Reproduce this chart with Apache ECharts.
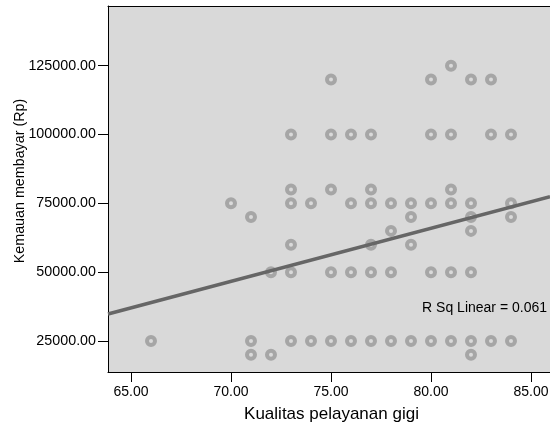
<!DOCTYPE html>
<html>
<head>
<meta charset="utf-8">
<script src="https://cdn.jsdelivr.net/npm/echarts@6/dist/echarts.min.js"></script>
<style>
html,body{margin:0;padding:0;background:#fff;}
#c{width:550px;height:425px;}
</style>
</head>
<body>
<div id="c"></div>
<script>
// Data
const kualitas = [
  66,
  70,
  71, 71, 71,
  72, 72,
  73, 73, 73, 73, 73, 73,
  74, 74,
  75, 75, 75, 75, 75,
  76, 76, 76, 76,
  77, 77, 77, 77, 77, 77,
  78, 78, 78, 78,
  79, 79, 79, 79,
  80, 80, 80, 80, 80,
  81, 81, 81, 81, 81, 81,
  82, 82, 82, 82, 82, 82, 82,
  83, 83, 83,
  84, 84, 84, 84
];
const kemauan = [
  25000,
  75000,
  70000, 25000, 20000,
  50000, 20000,
  100000, 80000, 75000, 60000, 50000, 25000,
  75000, 25000,
  120000, 100000, 80000, 50000, 25000,
  100000, 75000, 50000, 25000,
  100000, 80000, 75000, 60000, 50000, 25000,
  75000, 65000, 50000, 25000,
  75000, 70000, 60000, 25000,
  120000, 100000, 75000, 50000, 25000,
  125000, 100000, 80000, 75000, 50000, 25000,
  120000, 75000, 70000, 65000, 50000, 25000, 20000,
  120000, 100000, 25000,
  100000, 75000, 70000, 25000
];
const fitX = [63.85, 85.95];
const fitY = [34808, 77415];
const xTicks = [65, 70, 75, 80, 85];
const yTicks = [25000, 50000, 75000, 100000, 125000];
const rSqText = 'R Sq Linear = 0.061';

const points = kualitas.map((x, i) => [x, kemauan[i]]);
const fitLine = fitX.map((x, i) => [x, fitY[i]]);

const FONT = '"Liberation Sans", Arial, sans-serif';
const chart = echarts.init(document.getElementById('c'), null, {renderer: 'canvas'});
chart.setOption({
  animation: false,
  backgroundColor: '#ffffff',
  grid: {
    left: 108, top: 6, right: 0, bottom: 53,
    containLabel: false,
    outerBoundsMode: 'none',
    show: true, backgroundColor: '#d9d9d9', borderWidth: 0
  },
  xAxis: [{
    type: 'value',
    min: 63.85, max: 85.95,
    position: 'bottom',
    name: 'Kualitas pelayanan gigi',
    nameLocation: 'middle',
    nameGap: 34,
    nameMoveOverlap: false,
    nameTextStyle: {fontFamily: FONT, fontSize: 17, color: '#000', padding: [0, 0, 0, 5]},
    axisLine: {show: true, onZero: false, lineStyle: {color: '#000', width: 1}},
    axisTick: {show: true, length: 10, customValues: xTicks, lineStyle: {color: '#000'}},
    axisLabel: {
      customValues: xTicks, margin: 13,
      fontFamily: FONT, fontSize: 14, color: '#000',
      formatter: v => v.toFixed(2)
    },
    splitLine: {show: false}
  }, {
    type: 'value',
    min: 63.85, max: 85.95,
    position: 'top',
    axisLine: {show: true, onZero: false, lineStyle: {color: '#000', width: 1}},
    axisTick: {show: false},
    axisLabel: {show: false},
    splitLine: {show: false}
  }],
  yAxis: {
    type: 'value',
    min: 13740, max: 146685,
    name: 'Kemauan membayar (Rp)',
    nameLocation: 'middle',
    nameGap: 81,
    nameMoveOverlap: false,
    nameTextStyle: {fontFamily: FONT, fontSize: 14.3, color: '#000', padding: [0, 0, 0, 16]},
    axisLine: {show: true, onZero: false, lineStyle: {color: '#000', width: 1}},
    axisTick: {show: true, length: 10, customValues: yTicks, lineStyle: {color: '#000'}},
    axisLabel: {
      customValues: yTicks, margin: 12,
      fontFamily: FONT, fontSize: 14.3, color: '#000',
      formatter: v => v.toFixed(2)
    },
    splitLine: {show: false}
  },
  series: [{
    type: 'scatter',
    data: points,
    symbol: 'circle',
    symbolSize: 8,
    itemStyle: {color: '#dadada', borderColor: '#a6a6a6', borderWidth: 4, opacity: 1},
    z: 2
  }, {
    type: 'line',
    data: fitLine,
    symbol: 'none',
    lineStyle: {color: '#666666', width: 3.5},
    z: 3
  }],
  graphic: [{
    type: 'text',
    right: 3,
    top: 301,
    style: {text: rSqText, fontFamily: FONT, fontSize: 14, fill: '#000'}
  }]
});
</script>
</body>
</html>
